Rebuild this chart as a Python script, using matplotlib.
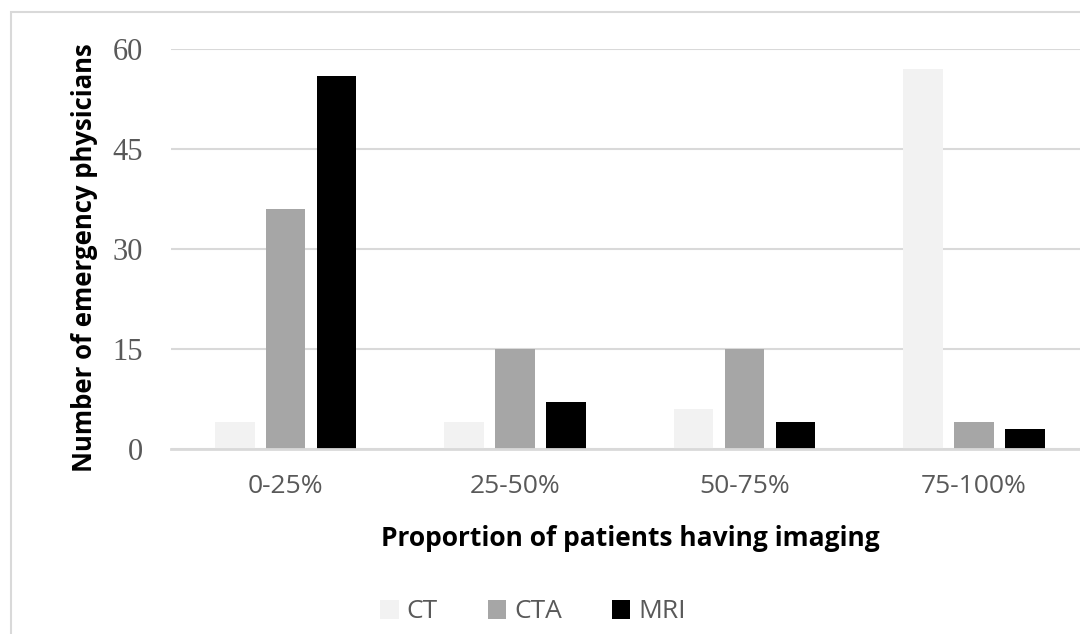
import numpy as np
import matplotlib
matplotlib.use('Agg')
import matplotlib.pyplot as plt
from matplotlib.patches import Rectangle

# data
categories = ['0-25%', '25-50%', '50-75%', '75-100%']
series_names = ['CT', 'CTA', 'MRI']
ct_values = [4, 4, 6, 57]
cta_values = [36, 15, 15, 4]
mri_values = [56, 7, 4, 3]
y_ticks = [0, 15, 30, 45, 60]

colors = ['#f2f2f2', '#a6a6a6', '#000000']

fig = plt.figure(figsize=(10.8, 6.34), dpi=100)
# outer chart frame (cropped on the right and bottom like the original)
fig.patches.append(Rectangle((11 / 1080, -0.1), 1.2, 1 - 12 / 634 + 0.1,
                             transform=fig.transFigure, fill=False,
                             edgecolor='#d9d9d9', linewidth=1.5))

ax = fig.add_axes([171 / 1080, 1 - 449 / 634, (1088.75 - 171) / 1080, 400 / 634])

x = np.arange(len(categories))
bar_w = 0.172
step = 0.222
for i, (name, vals) in enumerate(zip(series_names, [ct_values, cta_values, mri_values])):
    ax.bar(x + (i - 1) * step, vals, width=bar_w, color=colors[i], label=name, zorder=3)

ax.set_xlim(-0.5, len(categories) - 0.5)
ax.set_ylim(0, 60)
ax.set_yticks(y_ticks)
ax.set_xticks(x)
ax.set_xticklabels(categories, fontsize=19, color='#595959', family=['Open Sans', 'DejaVu Sans'])
ax.set_yticklabels([str(t) for t in y_ticks], fontsize=22, color='#595959', family='Liberation Serif')
ax.tick_params(axis='both', length=0)
ax.tick_params(axis='x', pad=18)
ax.tick_params(axis='y', pad=20)

# gridlines
ax.grid(axis='y', color='#d9d9d9', linewidth=1.5, zorder=0)
for s in ['top', 'right', 'left']:
    ax.spines[s].set_visible(False)
ax.spines['bottom'].set_color('#d9d9d9')
ax.spines['bottom'].set_linewidth(2)
ax.spines['bottom'].set_zorder(4)

# axis titles
fig.text(85 / 1080, 1 - 258 / 634, 'Number of emergency physicians', rotation=90,
         ha='center', va='center', fontsize=18.5, fontweight='bold',
         family=['Open Sans', 'DejaVu Sans'])
fig.text(630 / 1080, 1 - 538 / 634, 'Proportion of patients having imaging',
         ha='center', va='center', fontsize=19, fontweight='bold',
         family=['Open Sans', 'DejaVu Sans'])

# legend
leg = fig.legend(loc='center', bbox_to_anchor=(533 / 1080, 1 - 612 / 634), ncol=3,
                 frameon=False, handlelength=0.7, handleheight=0.7, columnspacing=1.9,
                 handletextpad=0.3,
                 prop={'family': ['Open Sans', 'DejaVu Sans'], 'size': 19})
for t in leg.get_texts():
    t.set_color('#595959')

fig.savefig('out.png', dpi=100)
